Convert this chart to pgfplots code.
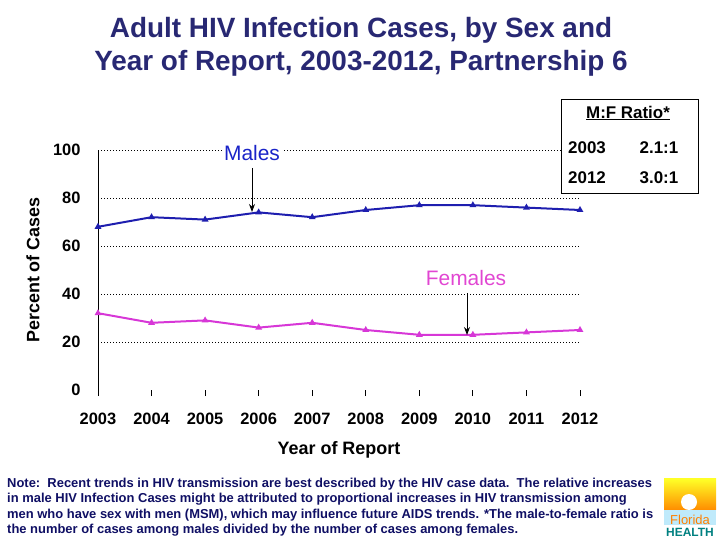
\documentclass[border=0pt]{standalone}
\usepackage{fontspec}
\setmainfont{Liberation Sans}
\usepackage{pgfplots}
\pgfplotsset{compat=1.18}
\usetikzlibrary{arrows.meta}

\definecolor{titlenavy}{RGB}{40,40,115}
\definecolor{notenavy}{RGB}{15,15,100}
\definecolor{maleblue}{RGB}{30,30,175}
\definecolor{maletext}{RGB}{25,35,200}
\definecolor{femmag}{RGB}{215,55,215}
\definecolor{femtext}{RGB}{225,70,210}

\begin{document}
\begin{tikzpicture}
\path[use as bounding box] (0,0) rectangle (720bp,540bp);

% title
\node[font=\fontsize{28}{33}\selectfont\bfseries, text=titlenavy, align=center]
  at (361bp,493.5bp) {Adult HIV Infection Cases, by Sex and\\Year of Report, 2003-2012, Partnership 6};

\begin{axis}[
    at={(98bp,150bp)}, anchor=south west,
    scale only axis, width=482bp, height=240bp,
    xmin=2003, xmax=2012, ymin=0, ymax=100,
    axis lines=left, axis line style={-, black, line width=0.8bp},
    x axis line style={draw=none},
    xtick={2003,2004,...,2012},
    ytick={20,40,60,80,100},
    extra y ticks={0}, extra y tick style={grid=none},
    ymajorgrids,
    grid style={black, line width=0.7bp, dash pattern=on 1bp off 2bp},
    ytick style={draw=none},
    xtick style={black, line width=0.7bp},
    tick align=outside, major tick length=6bp,
    ticklabel style={font=\fontsize{16.5}{18}\selectfont\bfseries},
    /pgf/number format/assume math mode=true,
    /pgf/number format/1000 sep={},
    xticklabel shift=14bp,
    yticklabel shift=8bp,
    xlabel={Year of Report},
    ylabel={Percent of Cases},
    every axis x label/.style={at={(rel axis cs:0.5,0)}, yshift=-60bp, anchor=center,
        font=\fontsize{18}{20}\selectfont\bfseries},
    every axis y label/.style={at={(rel axis cs:0,0.5)}, xshift=-65bp, rotate=90, anchor=center,
        font=\fontsize{18}{20}\selectfont\bfseries},
    clip=false,
]
\addplot[maleblue, line width=2bp, mark=triangle*, mark size=2bp] coordinates {
    (2003,68) (2004,72) (2005,71) (2006,74) (2007,72)
    (2008,75) (2009,77) (2010,77) (2011,76) (2012,75)
};
\addplot[femmag, line width=2bp, mark=triangle*, mark size=2bp] coordinates {
    (2003,32) (2004,28) (2005,29) (2006,26) (2007,28)
    (2008,25) (2009,23) (2010,23) (2011,24) (2012,25)
};
\end{axis}

% annotations
\node[fill=white, inner sep=2bp, text=maletext, font=\fontsize{21}{24}\selectfont] at (252bp,387bp) {Males};
\draw[line width=0.9bp, -{Stealth[length=8bp,width=6bp]}] (252bp,372bp) -- (252bp,328bp);
\node[text=femtext, font=\fontsize{21}{24}\selectfont] at (466bp,262bp) {Females};
\draw[line width=0.9bp, -{Stealth[length=8bp,width=6bp]}] (467bp,247bp) -- (467bp,205bp);

% ratio box
\draw[fill=white, line width=0.8bp] (561bp,441bp) rectangle (698bp,347bp);
\begin{scope}[every node/.style={font=\fontsize{17}{19}\selectfont\bfseries}]
\node at (628bp,427bp) {\underline{M:F Ratio*}};
\node at (587bp,392bp) {2003};
\node at (659bp,392bp) {2.1:1};
\node at (587bp,362bp) {2012};
\node at (659bp,362bp) {3.0:1};
\end{scope}

% note
\begin{scope}[every node/.style={anchor=base west, inner sep=0pt, text=notenavy, font=\fontsize{13}{15}\selectfont\bfseries}]
\node at (7bp,52.5bp) {Note:\ \ Recent trends in HIV transmission are best described by the HIV case data.\ \ The relative increases};
\node at (7bp,37.5bp) {in male HIV Infection Cases might be attributed to proportional increases in HIV transmission among};
\node at (7bp,22bp) {men who have sex with men (MSM), which may influence future AIDS trends. *The male-to-female ratio is};
\node at (7bp,7bp) {the number of cases among males divided by the number of cases among females.};
\end{scope}

% logo
\begin{scope}
\clip (664bp,61bp) rectangle (716bp,2bp);
\shade[top color=yellow!85!white, bottom color=orange!90!yellow] (664bp,61bp) rectangle (716bp,30bp);
\fill[white] (689bp,38bp) circle (8bp);
\fill[cyan!25!white] (664bp,30bp) rectangle (716bp,15bp);
\fill[white] (664bp,15bp) rectangle (716bp,2bp);
\node[text=orange, font=\fontsize{13}{14}\selectfont] at (690bp,20bp) {Florida};
\node[text=teal, font=\fontsize{12}{13}\selectfont\bfseries] at (690bp,8bp) {HEALTH};
\end{scope}
\end{tikzpicture}
\end{document}
